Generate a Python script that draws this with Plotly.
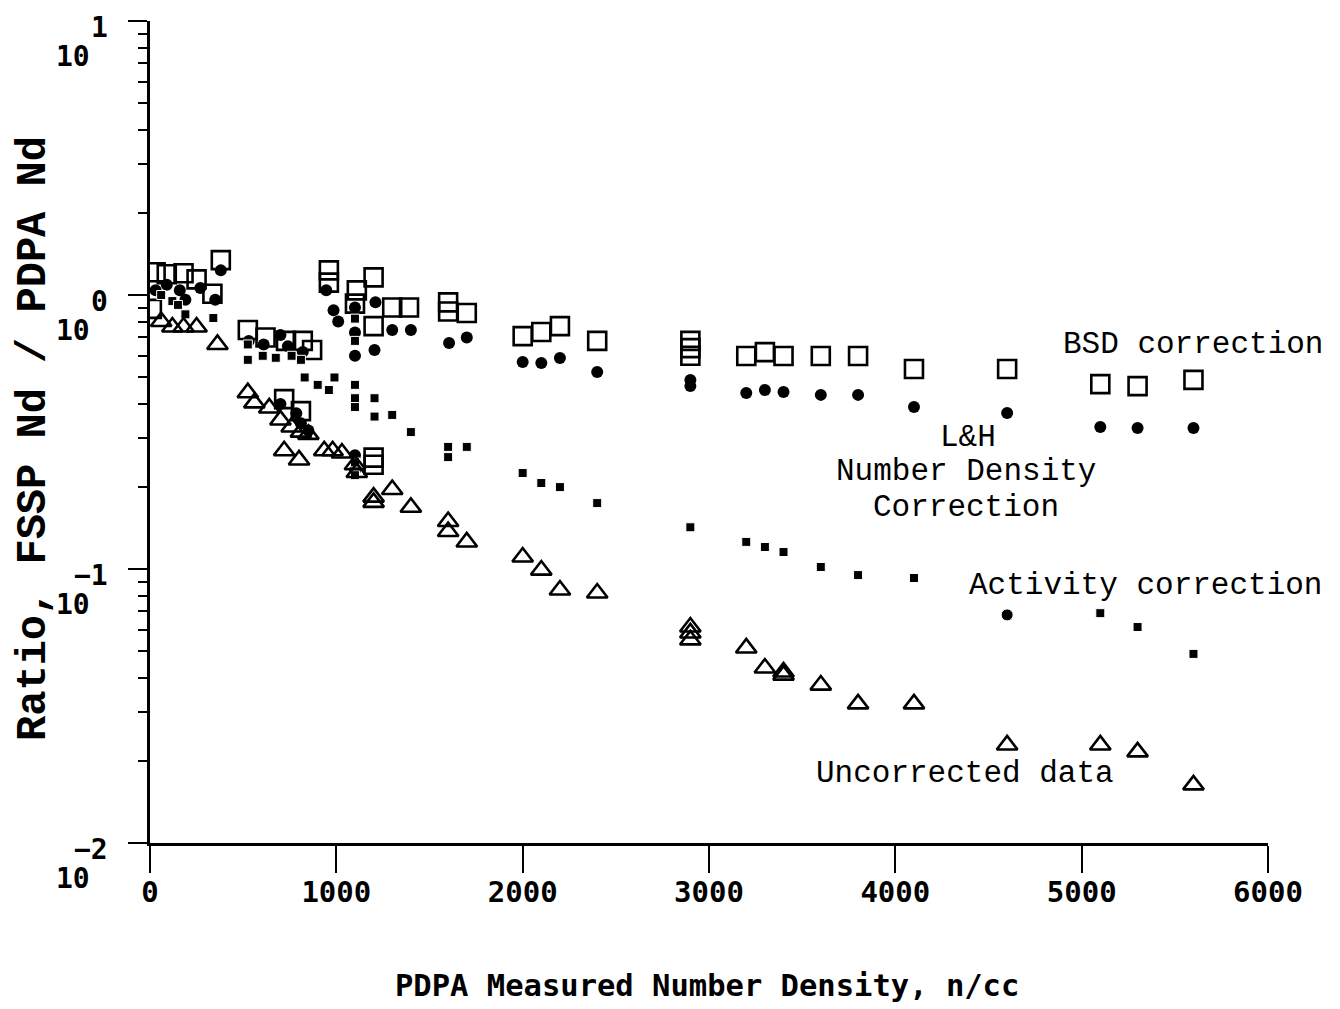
import math
import plotly.graph_objects as go

# ---------------- data ----------------
bsd_x = [10, 30, 90, 180, 250, 335, 380, 525, 620, 730, 820, 870, 720, 810,
         960, 960, 1110, 1100, 1200, 1200, 1300, 1390, 1600, 1600, 1700, 1200, 1200,
         2000, 2100, 2200, 2400, 2900, 2900, 2900, 3200, 3300, 3400, 3600, 3800,
         4100, 4600, 5100, 5300, 5600]
bsd_y = [0.89, 1.21, 1.19, 1.20, 1.14, 1.01, 1.34, 0.745, 0.70, 0.68, 0.68, 0.63, 0.417, 0.377,
         1.23, 1.11, 1.04, 0.93, 1.16, 0.77, 0.90, 0.90, 0.94, 0.87, 0.86, 0.255, 0.24,
         0.708, 0.733, 0.77, 0.68, 0.68, 0.64, 0.60, 0.599, 0.619, 0.599, 0.599, 0.599,
         0.537, 0.537, 0.473, 0.465, 0.49]

lh_x = [30, 90, 160, 190, 270, 350, 380, 530, 610, 700, 740, 820, 700, 785, 810, 850,
        946, 985, 1010, 1100, 1100, 1100, 1210, 1205, 1300, 1400, 1605, 1700, 1100, 1100,
        2000, 2100, 2200, 2400, 2900, 2900, 3200, 3300, 3400, 3600, 3800, 4100, 4600,
        5100, 5300, 5600]
lh_y = [1.04, 1.09, 1.04, 0.96, 1.06, 0.96, 1.23, 0.68, 0.66, 0.715, 0.65, 0.62, 0.40, 0.37, 0.34, 0.32,
        1.04, 0.88, 0.80, 0.90, 0.73, 0.60, 0.94, 0.63, 0.745, 0.745, 0.668, 0.70, 0.26, 0.23,
        0.57, 0.565, 0.589, 0.524, 0.49, 0.465, 0.439, 0.45, 0.443, 0.432, 0.432, 0.39, 0.371,
        0.33, 0.327, 0.327]

act_x = [60, 120, 150, 190, 340, 525, 525, 605, 675, 760, 810, 830, 900, 960, 990,
         1100, 1100, 1100, 1100, 1100, 1100, 1100, 1205, 1205, 1300, 1400, 1600, 1600, 1700,
         2000, 2100, 2200, 2400, 2900, 3200, 3300, 3400, 3600, 3800, 4100, 4600, 5100, 5300, 5600]
act_y = [1.0, 0.95, 0.92, 0.85, 0.824, 0.66, 0.58, 0.60, 0.59, 0.60, 0.58, 0.50, 0.47, 0.45, 0.50,
         0.82, 0.68, 0.47, 0.42, 0.39, 0.245, 0.22, 0.42, 0.36, 0.365, 0.316, 0.279, 0.256, 0.279,
         0.224, 0.206, 0.199, 0.174, 0.142, 0.1256, 0.1203, 0.1153, 0.1017, 0.095, 0.0927,
         0.068, 0.069, 0.0614, 0.049]

unc_x = [60, 120, 180, 250, 362, 525, 560, 640, 700, 760, 810, 850, 720, 800, 935, 980, 1030,
         1100, 1110, 1200, 1200, 1300, 1400, 1600, 1600, 1700, 2000, 2100, 2200, 2400,
         2900, 2900, 2900, 3200, 3300, 3400, 3400, 3600, 3800, 4100, 4600, 5100, 5300, 5600]
unc_y = [0.80, 0.764, 0.764, 0.764, 0.66, 0.44, 0.404, 0.387, 0.35, 0.33, 0.316, 0.31, 0.27, 0.25,
         0.27, 0.27, 0.265, 0.24, 0.225, 0.183, 0.175, 0.195, 0.168, 0.149, 0.137, 0.1255,
         0.1106, 0.0991, 0.0838, 0.0817, 0.0614, 0.0584, 0.0551, 0.0515, 0.0435, 0.0421, 0.041,
         0.0377, 0.0322, 0.0322, 0.0228, 0.0228, 0.0215, 0.0163]

x_ticks = [0, 1000, 2000, 3000, 4000, 5000, 6000]
y_exponents = [1, 0, -1, -2]

labels = [
    ("BSD correction", 5600, 0.657),
    ("L&H", 4390, 0.303),
    ("Number Density", 4380, 0.226),
    ("Correction", 4380, 0.167),
    ("Activity correction", 5340, 0.0874),
    ("Uncorrected data", 4373, 0.018),
]
x_title = "PDPA Measured Number Density, n/cc"
y_title = "Ratio, FSSP Nd / PDPA Nd"

# ---------------- figure ----------------
mono = "Liberation Mono"
digit_font = "DejaVu Sans Mono"

# the single round mark in the activity row
act_symbols = ["circle" if x == 4600 else "square" for x in act_x]
act_sizes = [12 if x == 4600 else 9 for x in act_x]

fig = go.Figure()
fig.add_trace(go.Scatter(x=bsd_x, y=bsd_y, mode="markers", name="BSD correction",
                         marker=dict(symbol="square-open", size=18, color="black", opacity=1,
                                     line=dict(width=2.6, color="black"))))
fig.add_trace(go.Scatter(x=lh_x, y=lh_y, mode="markers", name="L&H",
                         marker=dict(symbol="circle", size=12, color="black", opacity=1)))
fig.add_trace(go.Scatter(x=act_x, y=act_y, mode="markers", name="Activity",
                         marker=dict(symbol=act_symbols, size=act_sizes, color="black",
                                     opacity=1)))
fig.add_trace(go.Scatter(x=unc_x, y=unc_y, mode="markers", name="Uncorrected",
                         marker=dict(symbol="triangle-up-open", size=18, color="black", opacity=1,
                                     line=dict(width=2.6, color="black"))))

minor_vals = [m * 10 ** e for e in y_exponents[1:] for m in range(2, 10)]

fig.update_layout(
    width=1332, height=1001,
    margin=dict(l=142, r=72, t=13, b=166),
    paper_bgcolor="white", plot_bgcolor="white",
    showlegend=False,
    xaxis=dict(range=[0, 6000], tickvals=x_ticks, ticktext=[str(v) for v in x_ticks],
               showgrid=False, zeroline=False, showline=True, linecolor="black", linewidth=3,
               ticks="outside", ticklen=27, tickwidth=2, tickcolor="black",
               ticklabelstandoff=-6,
               tickfont=dict(family=digit_font, size=29, color="black", weight="bold")),
    yaxis=dict(type="log", range=[-2, 1], tickvals=[10 ** e for e in y_exponents],
               showticklabels=False,
               showgrid=False, zeroline=False, showline=True, linecolor="black", linewidth=3,
               ticks="outside", ticklen=19, tickwidth=2, tickcolor="black",
               minor=dict(tickvals=minor_vals, ticks="outside", ticklen=9, tickwidth=2,
                          tickcolor="black", showgrid=False)),
)

ann = []
for e in y_exponents:
    ann.append(dict(xref="paper", yref="y", x=0, y=e, text="10", showarrow=False,
                    xanchor="right", yanchor="middle", xshift=-58, yshift=-35,
                    font=dict(family=digit_font, size=28, color="black", weight="bold")))
    ann.append(dict(xref="paper", yref="y", x=0, y=e, text=("\u2212" + str(-e)) if e < 0 else str(e),
                    showarrow=False, xanchor="right", yanchor="middle", xshift=-40, yshift=-6,
                    font=dict(family=digit_font, size=28, color="black", weight="bold")))

for text, lx, ly in labels:
    ann.append(dict(xref="x", yref="y", x=lx, y=math.log10(ly), text=text, showarrow=False,
                    xanchor="center", yanchor="middle",
                    font=dict(family=mono, size=31, color="black")))

ann.append(dict(xref="paper", yref="paper", x=0.4985, y=0, yshift=-142, text=x_title,
                showarrow=False, xanchor="center", yanchor="middle",
                font=dict(family=digit_font, size=30.5, color="black", weight="bold")))
ann.append(dict(xref="paper", yref="paper", x=0, y=0.4915, xshift=-116, text=y_title,
                showarrow=False, xanchor="center", yanchor="middle", textangle=-90,
                font=dict(family=mono, size=42, color="black", weight="bold")))

fig.update_layout(annotations=ann)
fig.write_html("out.html")
